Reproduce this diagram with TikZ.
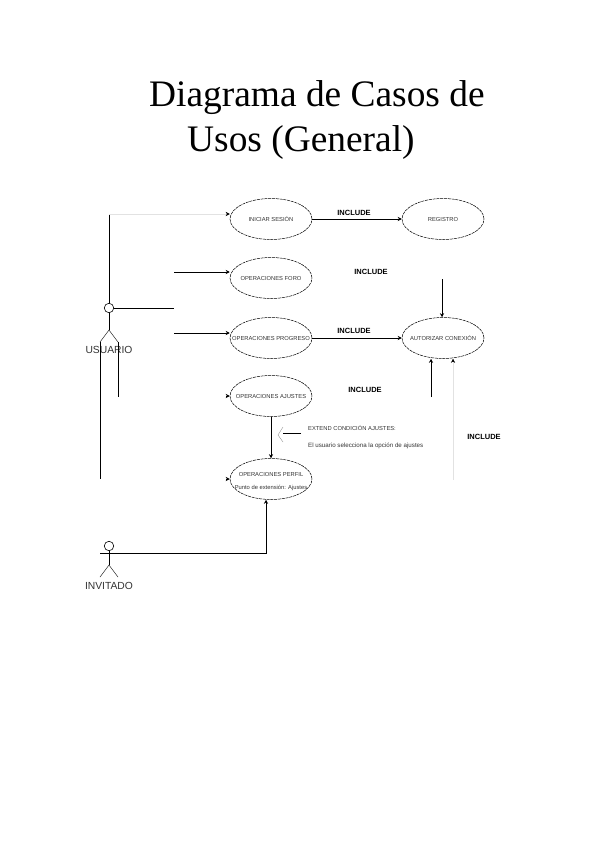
\documentclass[tikz,border=0pt]{standalone}
\usepackage{xcolor}
\usepackage{fontspec}
\setmainfont{Liberation Serif}
\setsansfont{Liberation Sans}
\usetikzlibrary{shapes.geometric, arrows.meta, positioning, calc}
\definecolor{faintline}{HTML}{E2E2E2}
\definecolor{inktext}{HTML}{333333}

\begin{document}
\begin{tikzpicture}[
  x=1pt, y=-1pt,
  usecase/.style={draw, ellipse, minimum width=82pt, minimum height=41pt, inner sep=0pt, line width=0.5pt, dash pattern=on 3pt off 0.8pt},
  usecasetext/.style={text=inktext, align=center, inner sep=0pt, yshift=-0.5pt, font=\sffamily\fontsize{5.8}{13}\selectfont},
  actorhead/.style={draw, circle, minimum size=9.5pt, inner sep=0pt, line width=0.6pt},
  actorname/.style={font=\sffamily\fontsize{10.3}{12}\selectfont, text=inktext, inner sep=0pt},
  includetag/.style={font=\sffamily\bfseries\fontsize{7.5}{9}\selectfont, inner sep=0pt},
  notetext/.style={font=\sffamily\fontsize{5.8}{7}\selectfont, anchor=west, inner sep=0pt, text=inktext},
  titletext/.style={font=\rmfamily\fontsize{37.4}{40}\selectfont, anchor=base west, inner sep=0pt},
  link/.style={-{Stealth[length=4pt,width=4pt]}, line width=0.8pt},
  faintlink/.style={-{Stealth[length=4pt,width=4pt,black]}, line width=0.4pt, color=faintline},
  plain/.style={line width=0.8pt},
]
  \useasboundingbox (0,0) rectangle (599,848);

  % title
  \node[titletext] (titlea) at (149,107) {Diagrama de Casos de};
  \node[titletext] (titleb) at (187,151) {Usos (General)};

  % use cases
  \node[usecase, label={[usecasetext]center:INICIAR SESIÓN}] (iniciar) at (271,219) {};
  \node[usecase, label={[usecasetext]center:OPERACIONES FORO}] (foro) at (271,278) {};
  \node[usecase, label={[usecasetext]center:OPERACIONES PROGRESO}] (progreso) at (271,338) {};
  \node[usecase, label={[usecasetext]center:OPERACIONES AJUSTES}] (ajustes) at (271,396) {};
  \node[usecase, label={[usecasetext, yshift=-2.5pt]center:{OPERACIONES PERFIL\\Punto de extensión: Ajustes}}] (perfil) at (271,479) {};
  \node[usecase, label={[usecasetext]center:REGISTRO}] (registro) at (443,219) {};
  \node[usecase, label={[usecasetext]center:AUTORIZAR CONEXIÓN}] (autorizar) at (443,338) {};

  % actors
  \node[actorhead] (usuario) at (109,308) {};
  \node[actorname] (usuariolabel) at (109,350) {USUARIO};
  \node[actorhead] (invitado) at (109,546) {};
  \node[actorname] (invitadolabel) at (109,586) {INVITADO};

  % free ends
  \coordinate (usuariotop) at (109,214);
  \coordinate (usuarioarm) at (174,308);
  \coordinate (usuariohip) at (109,330);
  \coordinate (usuariolegl) at (100,342);
  \coordinate (usuariolegr) at (118,342);
  \coordinate (usuariofootl) at (100,479);
  \coordinate (usuariofootr) at (118,397);
  \coordinate (forostart) at (174,272);
  \coordinate (progresostart) at (174,333);
  \coordinate (ajustesstart) at (226,396);
  \coordinate (perfilstart) at (226,479);
  \coordinate (autorizartop) at (442,279);
  \coordinate (autorizarleft) at (431,397);
  \coordinate (autorizarright) at (453,480);
  \coordinate (invitadohip) at (109,565);
  \coordinate (invitadolegl) at (100,577);
  \coordinate (invitadolegr) at (118,577);
  \coordinate (invitadoarm) at (100,553);
  \coordinate (invitadocorner) at (266,553);
  \coordinate (notestart) at (301,433);
  \coordinate (noteend) at (283,433);

  % usuario figure
  \draw[plain] (usuariotop) -- (usuario);
  \draw[plain] (usuario) -- (usuarioarm);
  \draw[line width=0.6pt] (usuario) -- (usuariohip);
  \draw[line width=0.4pt] (usuariolegl) -- (usuariohip) -- (usuariolegr);
  \draw[plain] (usuariolegl) -- (usuariofootl);
  \draw[plain] (usuariolegr) -- (usuariofootr);

  % invitado figure
  \draw[plain] (invitado) -- (invitadohip);
  \draw[line width=0.4pt] (invitadolegl) -- (invitadohip) -- (invitadolegr);
  \draw[link] (invitadoarm) -- (invitadocorner) -- (invitadocorner |- perfil.south);

  % connectors
  \draw[faintlink] (usuariotop) -- (usuariotop -| iniciar.west);
  \draw[link] (forostart) -- (forostart -| foro.west);
  \draw[link] (progresostart) -- (progresostart -| progreso.west);
  \draw[link] (ajustesstart) -- (ajustes.west);
  \draw[link] (perfilstart) -- (perfil.west);
  \draw[link] (iniciar) -- (registro);
  \draw[link] (progreso) -- (autorizar);
  \draw[link] (autorizartop) -- (autorizartop |- autorizar.north);
  \draw[link] (autorizarleft) -- (autorizar.south -| autorizarleft);
  \draw[faintlink] (autorizarright) -- (autorizar.south -| autorizarright);
  \draw[link] (ajustes) -- (perfil);

  % extend note
  \draw[plain] (notestart) -- (noteend);
  \draw[line width=0.3pt, color=gray] (283,427) -- (278,435) -- (283,442);
  \node[notetext] (extendnote) at (308,428) {EXTEND CONDICIÓN AJUSTES:};
  \node[notetext, font=\sffamily\fontsize{6.2}{7}\selectfont] (extendtext) at (308,446) {El usuario selecciona la opción de ajustes};

  % include labels
  \node[includetag] (includea) at (354,212.5) {INCLUDE};
  \node[includetag] (includeb) at (371,271.5) {INCLUDE};
  \node[includetag] (includec) at (354,330.5) {INCLUDE};
  \node[includetag] (included) at (365,389.5) {INCLUDE};
  \node[includetag] (includee) at (484,436.5) {INCLUDE};
\end{tikzpicture}
\end{document}
